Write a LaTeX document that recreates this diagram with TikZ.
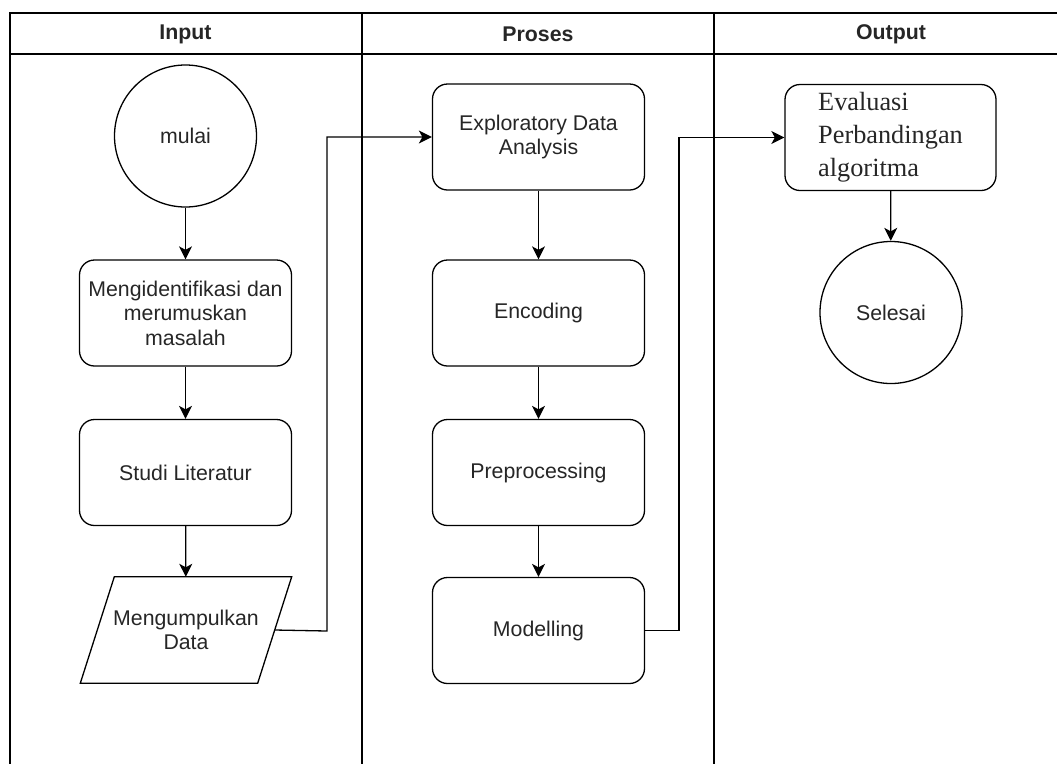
\documentclass[tikz,border=0pt]{standalone}
\usepackage{fontspec}
\setmainfont{Liberation Sans}
\newfontfamily\evalserif{Liberation Serif}
\usetikzlibrary{arrows.meta}
\definecolor{txt}{RGB}{38,38,38}
\begin{document}
\begin{tikzpicture}[x=1pt,y=-1pt,
  box/.style={draw, line width=1.3pt, rounded corners=15pt, minimum width=212pt, minimum height=106pt, align=center, inner sep=2pt, font=\fontsize{21.3}{24.5}\selectfont, text=txt},
  term/.style={draw, circle, line width=1.3pt, minimum size=142pt, inner sep=0pt, font=\fontsize{21.3}{24.5}\selectfont, text=txt},
  io/.style={minimum width=177pt, minimum height=106pt, align=center, inner sep=0pt, font=\fontsize{21.3}{24.5}\selectfont, text=txt},
  arr/.style={line width=1.3pt, -{Stealth[length=13pt,width=13pt,inset=3.5pt]}},
  lane/.style={line width=1.8pt},
  hdr/.style={font=\fontsize{21.3}{24}\selectfont\bfseries, text=txt}]
\useasboundingbox (0,0) rectangle (1057,764);

% swimlane frame
\draw[lane] (1057,13) -- (10,13) -- (10,764);
\draw[lane] (10,54) -- (1057,54);
\draw[lane] (362,13) -- (362,764);
\draw[lane] (714,13) -- (714,764);
\node[hdr] (hin) at (185.5,34) {Input};
\node[hdr] (hpr) at (538,34) {Proses};
\node[hdr] (hout) at (891,34) {Output};

% Input lane
\node[term] (mulai) at (185.5,136) {mulai};
\node[box] (ident) at (185.5,313) {Mengidentifikasi dan\\merumuskan\\masalah};
\node[box] (studi) at (185.5,472.5) {Studi Literatur};
\node[io] (data) at (186,630) {Mengumpulkan\\Data};
\draw[line width=1.3pt] ([xshift=17pt]data.north west) -- ([xshift=17pt]data.north east)
  -- ([xshift=-17pt]data.south east) -- ([xshift=-17pt]data.south west) -- cycle;

% Proses lane
\node[box] (eda) at (538.5,137) {Exploratory Data\\Analysis};
\node[box] (enc) at (538.5,313) {Encoding};
\node[box] (pre) at (538.5,472.5) {Preprocessing};
\node[box] (mod) at (538.5,630.5) {Modelling};

% Output lane
\node[box, minimum width=211pt, align=left, font=\evalserif\fontsize{26.3}{33}\selectfont] (eval) at (890.5,137.5) {Evaluasi\\Perbandingan\\algoritma};
\node[term] (selesai) at (891,312.5) {Selesai};

% connectors
\draw[arr] (mulai) -- (ident);
\draw[arr] (ident) -- (studi);
\draw[arr] (studi) -- (data);
\coordinate (c1) at (327,631);
\coordinate (c2) at (327,137);
\draw[arr] (data.east) -- (c1) -- (c2) -- (eda.west);
\draw[arr] (eda) -- (enc);
\draw[arr] (enc) -- (pre);
\draw[arr] (pre) -- (mod);
\coordinate (c3) at (679,630.5);
\coordinate (c4) at (679,137.5);
\draw[arr] (mod.east) -- (c3) -- (c4) -- (eval.west);
\draw[arr] (eval) -- (selesai);
\end{tikzpicture}
\end{document}
